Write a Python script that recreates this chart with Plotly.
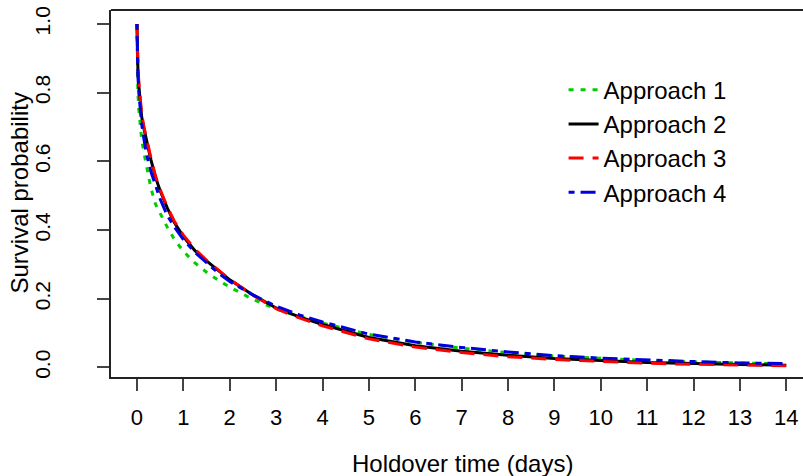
import plotly.graph_objects as go

# Holdover time (days)
time_days = [0, 0.01, 0.02, 0.04, 0.07, 0.1, 0.15, 0.2, 0.3, 0.4, 0.5, 0.65, 0.8,
             1.0, 1.25, 1.5, 1.75, 2.0, 2.5, 3.0, 3.5, 4, 5, 6, 7, 8, 9, 10, 11, 12, 13, 14]

# Survival probability per approach
approach1 = [1.0, 0.84, 0.80, 0.75, 0.70, 0.665, 0.625, 0.59, 0.522, 0.475, 0.447, 0.409, 0.374,
             0.338, 0.304, 0.277, 0.254, 0.234, 0.198, 0.170, 0.148, 0.129, 0.096, 0.073, 0.056,
             0.043, 0.033, 0.026, 0.020, 0.016, 0.012, 0.010]
approach2 = [1.0, 0.91, 0.87, 0.82, 0.765, 0.73, 0.695, 0.663, 0.605, 0.553, 0.514, 0.465, 0.423,
             0.381, 0.340, 0.310, 0.282, 0.255, 0.211, 0.173, 0.147, 0.125, 0.087, 0.063, 0.047,
             0.035, 0.026, 0.019, 0.014, 0.011, 0.008, 0.006]
approach3 = [1.0, 0.92, 0.88, 0.83, 0.775, 0.74, 0.70, 0.668, 0.61, 0.557, 0.518, 0.468, 0.427,
             0.385, 0.344, 0.312, 0.283, 0.256, 0.210, 0.171, 0.144, 0.121, 0.083, 0.059, 0.043,
             0.031, 0.023, 0.017, 0.012, 0.009, 0.007, 0.005]
approach4 = [1.0, 0.89, 0.85, 0.80, 0.75, 0.71, 0.665, 0.625, 0.57, 0.527, 0.49, 0.443, 0.410,
             0.372, 0.335, 0.305, 0.275, 0.250, 0.211, 0.178, 0.153, 0.132, 0.097, 0.074, 0.058,
             0.045, 0.034, 0.027, 0.021, 0.017, 0.013, 0.011]

series_names = ["Approach 1", "Approach 2", "Approach 3", "Approach 4"]
x_ticks = list(range(0, 15))
y_ticks = [0.0, 0.2, 0.4, 0.6, 0.8, 1.0]
y_tick_labels = ["0.0", "0.2", "0.4", "0.6", "0.8", "1.0"]

FONT = "Liberation Sans, Arial, sans-serif"

styles = [
    dict(color="#00CC00", dash="5px,7px"),
    dict(color="#000000", dash="solid"),
    dict(color="#FF0000", dash="15px,9px"),
    dict(color="#0000DD", dash="6px,6px,15px,6px"),
]

fig = go.Figure()
for name, ys, st in zip(series_names, [approach1, approach2, approach3, approach4], styles):
    fig.add_trace(go.Scatter(
        x=time_days, y=ys, mode="lines", name=name,
        line=dict(color=st["color"], dash=st["dash"], width=3),
    ))

fig.update_layout(
    width=803, height=476,
    margin=dict(l=111, r=0, t=10, b=99),
    paper_bgcolor="white", plot_bgcolor="white",
    font=dict(family=FONT, color="black"),
    showlegend=True,
    legend=dict(
        x=0.654, y=0.843, xanchor="left", yanchor="top",
        bgcolor="rgba(0,0,0,0)", borderwidth=0,
        font=dict(size=24, family=FONT, color="black"),
        tracegroupgap=0,
    ),
    xaxis=dict(
        range=[-0.56, 14.36], tickmode="array", tickvals=x_ticks,
        ticktext=[str(v) for v in x_ticks],
        showgrid=False, zeroline=False,
        showline=True, linecolor="#222222", linewidth=2,
        ticks="outside", ticklen=12, tickwidth=1.5, tickcolor="#444444",
        tickfont=dict(size=22, family=FONT, color="black"),
        ticklabelstandoff=8,
    ),
    yaxis=dict(
        range=[-0.028, 1.0405], tickmode="array", tickvals=y_ticks,
        ticktext=y_tick_labels,
        showgrid=False, zeroline=False,
        showline=True, linecolor="#222222", linewidth=2,
        ticks="outside", ticklen=12, tickwidth=1.5, tickcolor="#444444",
        tickangle=-90,
        tickfont=dict(size=21, family=FONT, color="black"),
        ticklabelstandoff=39,
    ),
    shapes=[dict(type="line", xref="paper", yref="paper", x0=0, x1=1, y0=1, y1=1,
                 line=dict(color="#222222", width=2))],
    annotations=[
        dict(text="Holdover time (days)", xref="paper", yref="paper", x=0.508, y=0,
             xanchor="center", yanchor="middle", yshift=-86, showarrow=False,
             font=dict(size=24, family=FONT, color="black")),
        dict(text="Survival probability", xref="paper", yref="paper", x=0, y=0.5,
             xanchor="center", yanchor="middle", xshift=-92, textangle=-90, showarrow=False,
             font=dict(size=24, family=FONT, color="black")),
    ],
)

fig.write_html("out.html", config={"displayModeBar": False},
               post_script="document.body.style.margin='0';")
